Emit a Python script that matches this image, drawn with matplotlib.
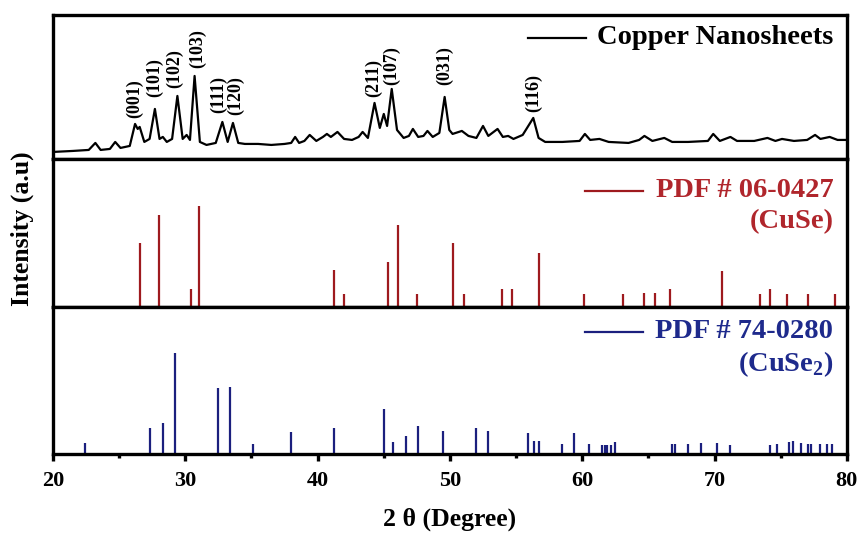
import matplotlib
matplotlib.use("Agg")
import matplotlib.pyplot as plt
from matplotlib.ticker import MultipleLocator

plt.rcParams['font.family'] = ['Liberation Serif', 'DejaVu Serif']
plt.rcParams['font.weight'] = 'bold'
plt.rcParams['mathtext.fontset'] = 'custom'
plt.rcParams['mathtext.rm'] = 'Liberation Serif:bold'
plt.rcParams['mathtext.bf'] = 'Liberation Serif:bold'

# measured XRD pattern of the copper nanosheets (2theta, intensity a.u.)
xrd_theta = [20.0, 21.5, 22.7, 23.2, 23.6, 24.3, 24.7, 25.1, 25.8, 26.2, 26.4, 26.55,
             26.9, 27.3, 27.7, 28.05, 28.3, 28.6, 29.0, 29.4, 29.8, 30.1, 30.35, 30.7,
             31.1, 31.6, 32.3, 32.8, 33.2, 33.6, 34.0, 34.5, 35.5, 36.5, 37.5, 38.0,
             38.3, 38.6, 39.0, 39.4, 39.9, 40.4, 40.7, 41.0, 41.5, 42.0, 42.6, 43.1,
             43.4, 43.8, 44.3, 44.7, 45.0, 45.25, 45.6, 46.0, 46.5, 46.9, 47.2, 47.6,
             48.0, 48.3, 48.7, 49.2, 49.6, 49.95, 50.2, 50.9, 51.4, 52.0, 52.5, 52.9,
             53.6, 54.0, 54.4, 54.8, 55.5, 56.3, 56.7, 57.2, 58.5, 59.8, 60.2, 60.6,
             61.3, 62.0, 63.5, 64.3, 64.7, 65.3, 66.2, 66.8, 68.0, 69.5, 69.9, 70.4,
             71.2, 71.7, 73.0, 74.0, 74.6, 75.1, 76.0, 77.0, 77.6, 78.0, 78.7, 79.3, 80.0]
xrd_int = [6, 7, 8, 15, 8, 9, 16, 10, 12, 34, 29, 31,
           16, 19, 49, 19, 21, 16, 19, 62, 19, 23, 18, 82,
           16, 13, 15, 36, 16, 35, 15, 14, 14, 13, 14, 15,
           21, 15, 17, 23, 17, 21, 24, 21, 26, 19, 18, 21,
           26, 20, 55, 30, 44, 32, 69, 28, 20, 22, 29, 21,
           22, 27, 21, 25, 61, 28, 24, 27, 22, 20, 32, 22,
           29, 21, 22, 19, 23, 40, 20, 16, 16, 17, 24, 18,
           19, 16, 15, 18, 22, 17, 20, 16, 16, 17, 24, 17,
           21, 17, 17, 20, 17, 19, 17, 18, 23, 19, 21, 18, 18]

# peak indices and where their labels sit
hkl_labels = ['(001)', '(101)', '(102)', '(103)', '(111)', '(120)',
              '(211)', '(107)', '(031)', '(116)']
hkl_theta = [26.2, 27.7, 29.2, 30.9, 32.5, 33.8, 44.2, 45.6, 49.6, 56.3]
hkl_y = [40, 61, 70, 90, 45, 43, 61, 73, 73, 46]

# PDF # 06-0427 (CuSe) reference lines
cuse_theta = [26.6, 28.0, 30.4, 31.0, 41.2, 42.0, 45.3, 46.1, 47.5, 50.2, 51.1,
              53.9, 54.7, 56.7, 60.1, 63.1, 64.7, 65.5, 66.6, 70.6, 73.4, 74.2,
              75.5, 77.1, 79.1]
cuse_int = [63, 91, 18, 100, 37, 13, 45, 81, 13, 63, 13,
            18, 18, 54, 13, 13, 14, 14, 18, 36, 13, 18,
            13, 13, 13]

# PDF # 74-0280 (CuSe2) reference lines
cuse2_theta = [22.4, 27.3, 28.3, 29.2, 32.5, 33.4, 35.1, 38.0, 41.2, 45.0, 45.7,
               46.7, 47.6, 49.5, 52.0, 52.9, 55.9, 56.35, 56.7, 58.5, 59.4, 60.5,
               61.5, 61.7, 61.9, 62.2, 62.5, 66.8, 67.0, 68.0, 69.0, 70.2, 71.2,
               74.2, 74.7, 75.6, 75.9, 76.5, 77.1, 77.3, 78.0, 78.5, 78.9]
cuse2_int = [11, 26, 31, 101, 66, 67, 10, 22, 26, 45, 12,
             18, 28, 23, 26, 23, 21, 13, 13, 10, 21, 10,
             9, 9, 9, 9, 12, 10, 10, 10, 11, 11, 9,
             9, 10, 12, 13, 11, 10, 10, 10, 10, 10]

red_line = '#9e1a1e'
red_text = '#b0262c'
blue_line = '#1b1f7e'
blue_text = '#1e2a8c'

fig = plt.figure(figsize=(8.58, 5.34), dpi=100)
gs = fig.add_gridspec(3, 1, left=0.0618, right=0.987, top=0.972, bottom=0.150,
                      hspace=0, height_ratios=[144, 148, 147])
ax1 = fig.add_subplot(gs[0])
ax2 = fig.add_subplot(gs[1], sharex=ax1)
ax3 = fig.add_subplot(gs[2], sharex=ax1)

ax1.plot(xrd_theta, xrd_int, color='black', lw=1.6, solid_joinstyle='round')
for lab, x, y in zip(hkl_labels, hkl_theta, hkl_y):
    ax1.text(x, y, lab, rotation=90, ha='center', va='bottom', fontsize=13)
ax1.set_ylim(-1, 143)

ax2.vlines(cuse_theta, 0, cuse_int, color=red_line, lw=1.6)
ax2.set_ylim(0, 147)

ax3.vlines(cuse2_theta, 0, cuse2_int, color=blue_line, lw=1.6)
ax3.set_ylim(0, 147)


def tag(ax, text, sub, color, tcolor, y, y2, x0):
    ax.plot([x0, x0 + 0.073], [y, y], color=color, lw=1.6, transform=ax.transAxes)
    ax.text(0.983, y, text, color=tcolor, fontsize=20.5, ha='right', va='center',
            transform=ax.transAxes)
    if sub:
        ax.text(0.983, y2, sub, color=tcolor, fontsize=20.5, ha='right', va='center',
                transform=ax.transAxes)


tag(ax1, 'Copper Nanosheets', None, 'black', 'black', 0.84, None, 0.598)
tag(ax2, 'PDF # 06-0427', '(CuSe)', red_line, red_text, 0.785, 0.575, 0.670)
tag(ax3, 'PDF # 74-0280', '(CuSe$_{2}$)', blue_line, blue_text, 0.83, 0.612, 0.670)

for ax in (ax1, ax2, ax3):
    for sp in ax.spines.values():
        sp.set_linewidth(2.4)
    ax.set_yticks([])
    ax.tick_params(axis='x', which='both', bottom=False, labelbottom=False)

ax1.set_xlim(20, 80)
ax3.xaxis.set_major_locator(MultipleLocator(10))
ax3.xaxis.set_minor_locator(MultipleLocator(5))
ax3.tick_params(axis='x', which='major', bottom=True, labelbottom=True, direction='out',
                length=5, width=2.4, labelsize=16, pad=7)
ax3.tick_params(axis='x', which='minor', bottom=True, direction='out', length=3, width=2.4)

fig.text(0.524, 0.028, '2 \u03b8 (Degree)', ha='center', va='center', fontsize=18.5)
fig.text(0.026, 0.571, 'Intensity (a.u)', ha='center', va='center', rotation=90, fontsize=18.5)

fig.savefig('out.png', dpi=100)
